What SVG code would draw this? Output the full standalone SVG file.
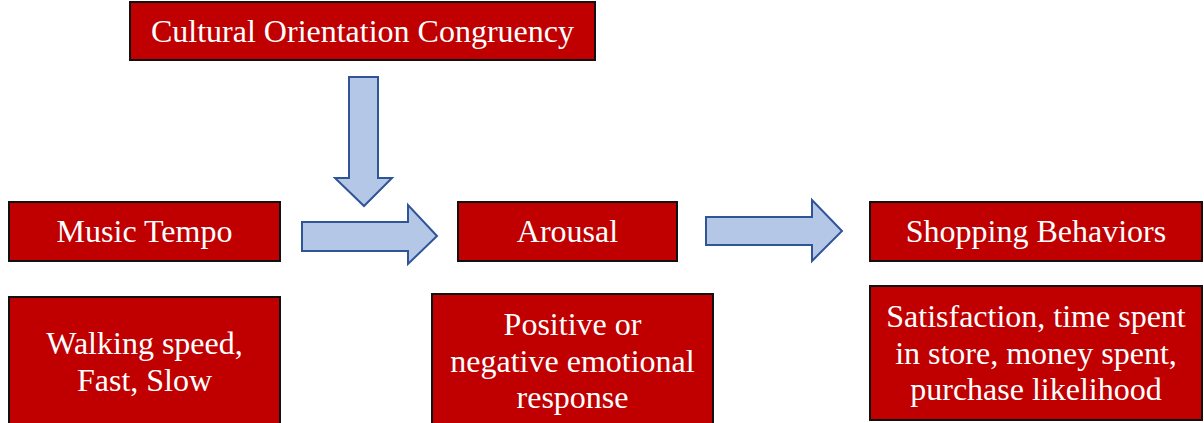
<svg xmlns="http://www.w3.org/2000/svg" width="1204" height="423" viewBox="0 0 1204 423">
<style>
.box{fill:#C00000;stroke:#111;stroke-width:2}
.t{fill:#fff;font-family:"Liberation Serif","Times New Roman",serif;font-size:32px;text-anchor:middle}
.arr{fill:#B4C7E7;stroke:#2F5597;stroke-width:2;stroke-linejoin:miter}
</style>
<rect width="1204" height="423" fill="#fff"/>
<g id="connectors">
<path class="arr" d="M349,77 H378 V178 H392 L364,206 L335,178 H349 Z"/>
<path class="arr" d="M302,222 H408 V205 L437,236 L408,264 V251 H302 Z"/>
<path class="arr" d="M706,217 H812 V200 L842,231 L812,261 V245 H706 Z"/>
</g>
<g id="cultural">
<rect class="box" x="130" y="2" width="465" height="58"/>
<text class="t" x="362.5" y="42">Cultural Orientation Congruency</text>
</g>
<g id="music">
<rect class="box" x="9" y="202" width="271" height="59"/>
<text class="t" x="144.5" y="242">Music Tempo</text>
</g>
<g id="walking">
<rect class="box" x="9" y="297" width="271" height="140"/>
<text class="t" x="144.5" y="354">Walking speed,</text>
<text class="t" x="144.5" y="391">Fast, Slow</text>
</g>
<g id="arousal">
<rect class="box" x="458" y="202" width="219" height="59"/>
<text class="t" x="567.5" y="242">Arousal</text>
</g>
<g id="emotional">
<rect class="box" x="432" y="294" width="281" height="140"/>
<text class="t" x="572.5" y="335">Positive or</text>
<text class="t" x="572.5" y="372">negative emotional</text>
<text class="t" x="572.5" y="408">response</text>
</g>
<g id="shopping">
<rect class="box" x="870" y="202" width="332" height="59"/>
<text class="t" x="1036" y="242">Shopping Behaviors</text>
</g>
<g id="outcomes">
<rect class="box" x="870" y="286" width="332" height="134"/>
<text class="t" x="1036" y="327">Satisfaction, time spent</text>
<text class="t" x="1036" y="364">in store, money spent,</text>
<text class="t" x="1036" y="400">purchase likelihood</text>
</g>
</svg>
